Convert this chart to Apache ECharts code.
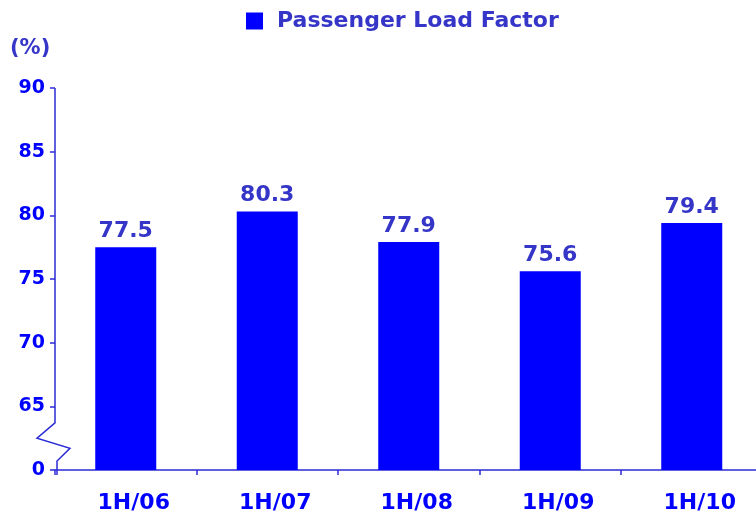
<!DOCTYPE html>
<html>
<head>
<meta charset="utf-8">
<script src="https://cdn.jsdelivr.net/npm/echarts@6/dist/echarts.min.js"></script>
<style>
  html,body{margin:0;padding:0;background:#fff;}
  #main{width:756px;height:519px;}
</style>
</head>
<body>
<div id="main"></div>
<script>
// data
const periods = ['1H/06', '1H/07', '1H/08', '1H/09', '1H/10']
const loadFactor = [77.5, 80.3, 77.9, 75.6, 79.4]
const seriesName = 'Passenger Load Factor'
const unitLabel = '(%)'

const FONT = '"DejaVu Sans", Verdana, sans-serif'
const AXIS_COLOR = '#2b2bd6'
const LABEL_COLOR = '#3535c8'

const myChart = echarts.init(document.querySelector('#main'))
const option = {
  animation: false,
  title: {
    text: unitLabel,
    left: 5,
    top: 33,
    textStyle: { color: LABEL_COLOR, fontFamily: FONT, fontWeight: 'bold', fontSize: 21 }
  },
  legend: {
    left: 241,
    top: 5,
    icon: 'rect',
    itemWidth: 17,
    itemHeight: 17,
    selectedMode: false,
    textStyle: { color: LABEL_COLOR, fontFamily: FONT, fontWeight: 'bold', fontSize: 22, padding: [0, 0, 0, 9] },
    data: [seriesName]
  },
  grid: { left: 55, width: 707.5, top: 88, bottom: 49, containLabel: false, outerBoundsMode: 'none' },
  xAxis: {
    type: 'category',
    data: periods,
    axisLine: { show: true, lineStyle: { color: AXIS_COLOR, width: 1.5 } },
    axisTick: { show: true, length: 5, lineStyle: { color: AXIS_COLOR, width: 1.5 } },
    axisLabel: {
      color: '#0000ff', fontFamily: FONT, fontWeight: 'bold', fontSize: 22, margin: 22,
      padding: [0, 0, 0, 16]
    }
  },
  yAxis: {
    type: 'value',
    min: 60,
    max: 90,
    interval: 5,
    splitLine: { show: false },
    axisLine: { show: false },
    axisTick: { show: true, length: 5, lineStyle: { color: AXIS_COLOR, width: 1.5 } },
    axisLabel: {
      color: '#0000ff', fontFamily: FONT, fontWeight: 'bold', fontSize: 19, margin: 10,
      formatter: v => v === 60 ? '0' : String(v)
    }
  },
  series: [{
    name: seriesName,
    type: 'bar',
    data: loadFactor,
    barWidth: 61,
    itemStyle: { color: '#0000ff' },
    label: {
      show: true,
      position: 'top',
      distance: 5,
      color: LABEL_COLOR,
      fontFamily: FONT,
      fontWeight: 'bold',
      fontSize: 22
    }
  }]
}
myChart.setOption(option)

// y axis line with the broken-scale zigzag between 0 and 65
const px = v => myChart.convertToPixel({ yAxisIndex: 0 }, v)
const x0 = myChart.convertToPixel({ gridIndex: 0 }, [0, 90])[0] - 70.75
const pts = [
  [x0, px(90)], [x0, px(63.7)], [x0 - 18, px(62.5)], [x0 + 15, px(61.7)],
  [x0 + 2, px(60.7)], [x0 + 2, px(60) + 5]
]
myChart.setOption({
  graphic: [{
    type: 'polyline',
    shape: { points: pts },
    style: { stroke: AXIS_COLOR, lineWidth: 1.5, fill: null },
    z: 100
  }]
})
</script>
</body>
</html>
